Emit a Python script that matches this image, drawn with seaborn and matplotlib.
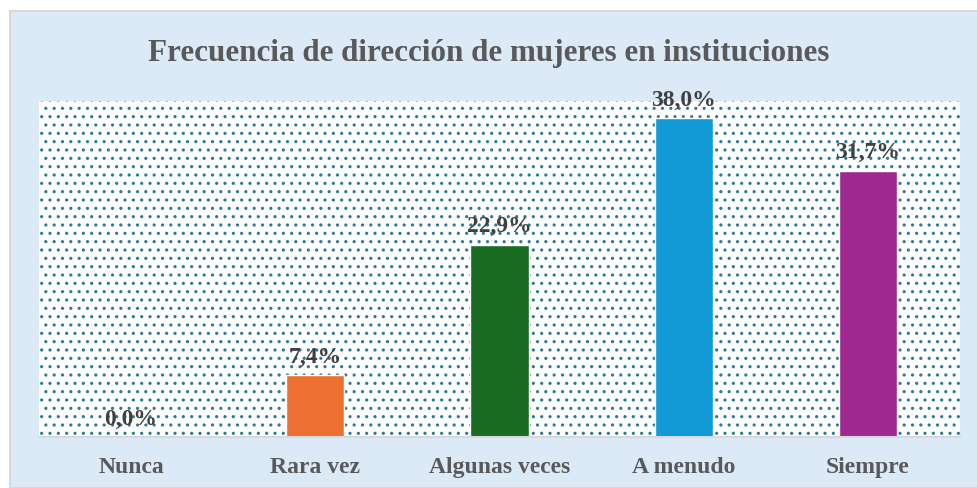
import seaborn as sns
import matplotlib.pyplot as plt
import pandas as pd
from matplotlib.patches import Rectangle

categorias = ["Nunca", "Rara vez", "Algunas veces", "A menudo", "Siempre"]
porcentajes = [0.0, 7.4, 22.9, 38.0, 31.7]
etiquetas = ["0,0%", "7,4%", "22,9%", "38,0%", "31,7%"]
colores = ["#4472c4", "#ed7031", "#1a6b24", "#109bd6", "#9e2a8f"]
titulo = "Frecuencia de dirección de mujeres en instituciones"

sns.set_style("white")
plt.rcParams['font.family'] = ['Liberation Serif', 'DejaVu Serif']
plt.rcParams['hatch.linewidth'] = 1.1

df = pd.DataFrame({"cat": categorias, "val": porcentajes})

fig = plt.figure(figsize=(9.77, 4.89), dpi=100)
fig.patch.set_facecolor("white")
fig.patches.append(Rectangle((10 / 977, 0), 1, 1 - 12 / 489, transform=fig.transFigure,
                             facecolor="#dce9f7", edgecolor="#d9d9d9", lw=1.5, zorder=-1))

ax = fig.add_axes([39 / 977, 51 / 489, 921 / 977, 336 / 489])
ax.set_facecolor("white")
ax.add_patch(Rectangle((0, 0), 1, 1, transform=ax.transAxes, facecolor="white",
                       edgecolor="#2a7a98", hatch="..", lw=0, zorder=0))

sns.barplot(data=df, x="cat", y="val", hue="cat", palette=colores, width=0.315,
            legend=False, ax=ax, zorder=2, saturation=1)

for cont, lab in zip(ax.containers, etiquetas):
    ax.bar_label(cont, labels=[lab], padding=6, fontsize=17, fontweight="bold",
                 color="#404040")

ax.set_ylim(0, 40)
ax.set_xlim(-0.5, 4.5)
ax.set_xlabel("")
ax.set_ylabel("")
ax.set_yticks([])
ax.tick_params(axis="x", length=0, pad=14, labelsize=17, labelcolor="#595959")
for lbl in ax.get_xticklabels():
    lbl.set_fontweight("bold")
for side in ["top", "left", "right"]:
    ax.spines[side].set_visible(False)
ax.spines["bottom"].set_color("#d9d9d9")
ax.spines["bottom"].set_linewidth(1.5)

fig.text(0.5, 1 - 54 / 489, titulo, ha="center", va="center", fontsize=22.4,
         fontweight="bold", color="#595959")

fig.savefig("out.png", dpi=100)
plt.close(fig)
